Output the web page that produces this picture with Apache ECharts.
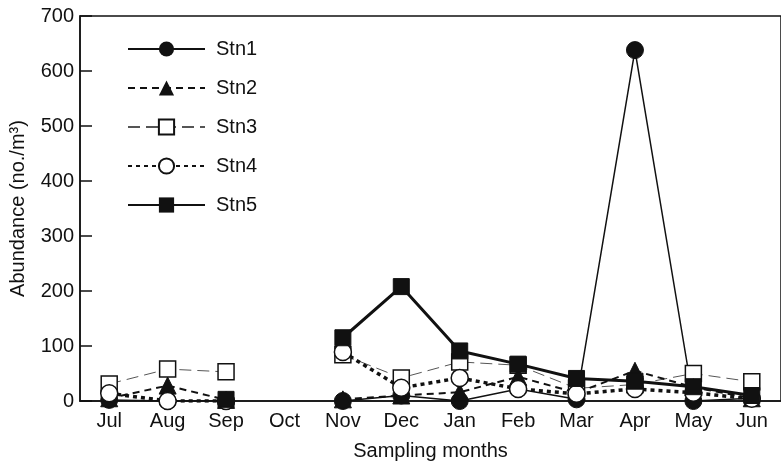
<!DOCTYPE html>
<html>
<head>
<meta charset="utf-8">
<script src="https://cdn.jsdelivr.net/npm/echarts@6/dist/echarts.min.js"></script>
<style>
html, body { margin: 0; padding: 0; background: #fff; }
#chart { width: 781px; height: 468px; }
</style>
</head>
<body>
<div id="chart"></div>
<script>
var months = ['Jul', 'Aug', 'Sep', 'Oct', 'Nov', 'Dec', 'Jan', 'Feb', 'Mar', 'Apr', 'May', 'Jun'];
var stn1 = [2, 0, 0, null, 0, 10, 0, 22, 3, 638, 0, 5];
var stn2 = [5, 28, 2, null, 3, 10, 16, 44, 15, 55, 25, 5];
var stn3 = [31, 58, 53, null, 84, 42, 71, 65, 23, 30, 50, 35];
var stn4 = [14, 0, 0, null, 89, 24, 42, 22, 13, 22, 15, 4];
var stn5 = [null, null, 3, null, 115, 208, 91, 67, 41, 36, 26, 10];

var font = 'Liberation Sans';

window.onload = function () {
    var myChart = echarts.init(document.getElementById('chart'));
    var option = {
        animation: false,
        textStyle: { fontFamily: font },
        grid: {
            left: 78, top: 16, width: 712, height: 385,
            show: true, borderColor: '#111', borderWidth: 1.5
        },
        legend: {
            orient: 'vertical',
            left: 122, top: 34,
            itemWidth: 77, itemHeight: 19, itemGap: 19,
            textStyle: { fontFamily: font, fontSize: 20, color: '#111', padding: [0, 0, 0, 6] },
            data: ['Stn1', 'Stn2', 'Stn3', 'Stn4', 'Stn5']
        },
        xAxis: {
            type: 'category',
            data: months,
            name: 'Sampling months',
            nameLocation: 'middle',
            nameGap: 40,
            nameTextStyle: { fontFamily: font, fontSize: 20, color: '#111' },
            axisLine: { lineStyle: { color: '#111', width: 1.5 } },
            axisTick: { inside: true, length: 10, lineStyle: { color: '#111', width: 1.5 } },
            axisLabel: { fontFamily: font, fontSize: 20, color: '#111', margin: 10 },
            splitLine: { show: false }
        },
        yAxis: {
            type: 'value',
            min: 0, max: 700, interval: 100,
            name: 'Abundance (no./m³)',
            nameLocation: 'middle',
            nameGap: 52,
            nameTextStyle: { fontFamily: font, fontSize: 20, color: '#111' },
            axisLine: { show: true, lineStyle: { color: '#111', width: 1.5 } },
            axisTick: { show: true, inside: true, length: 12, lineStyle: { color: '#111', width: 1.5 } },
            axisLabel: { fontFamily: font, fontSize: 20, color: '#111', margin: 6 },
            splitLine: { show: false }
        },
        series: [
            {
                name: 'Stn3', type: 'line', data: stn3,
                symbol: 'rect', symbolSize: 16,
                itemStyle: { color: '#fff', borderColor: '#111', borderWidth: 1.5 },
                lineStyle: { color: '#555', width: 1, type: [12, 6] }
            },
            {
                name: 'Stn1', type: 'line', data: stn1,
                symbol: 'circle', symbolSize: 17,
                itemStyle: { color: '#111', borderColor: '#111' },
                lineStyle: { color: '#111', width: 1.5 }
            },
            {
                name: 'Stn2', type: 'line', data: stn2,
                symbol: 'triangle', symbolSize: 17,
                itemStyle: { color: '#111', borderColor: '#111' },
                lineStyle: { color: '#111', width: 2, type: [7, 5] }
            },
            {
                name: 'Stn4', type: 'line', data: stn4,
                symbol: 'circle', symbolSize: 17,
                itemStyle: { color: '#fff', borderColor: '#111', borderWidth: 1.5 },
                lineStyle: { color: '#111', width: 3.5, type: [4, 4] }
            },
            {
                name: 'Stn5', type: 'line', data: stn5,
                symbol: 'rect', symbolSize: 16,
                itemStyle: { color: '#111', borderColor: '#111' },
                lineStyle: { color: '#111', width: 3 }
            }
        ]
    };
    myChart.setOption(option);
};
</script>
</body>
</html>
